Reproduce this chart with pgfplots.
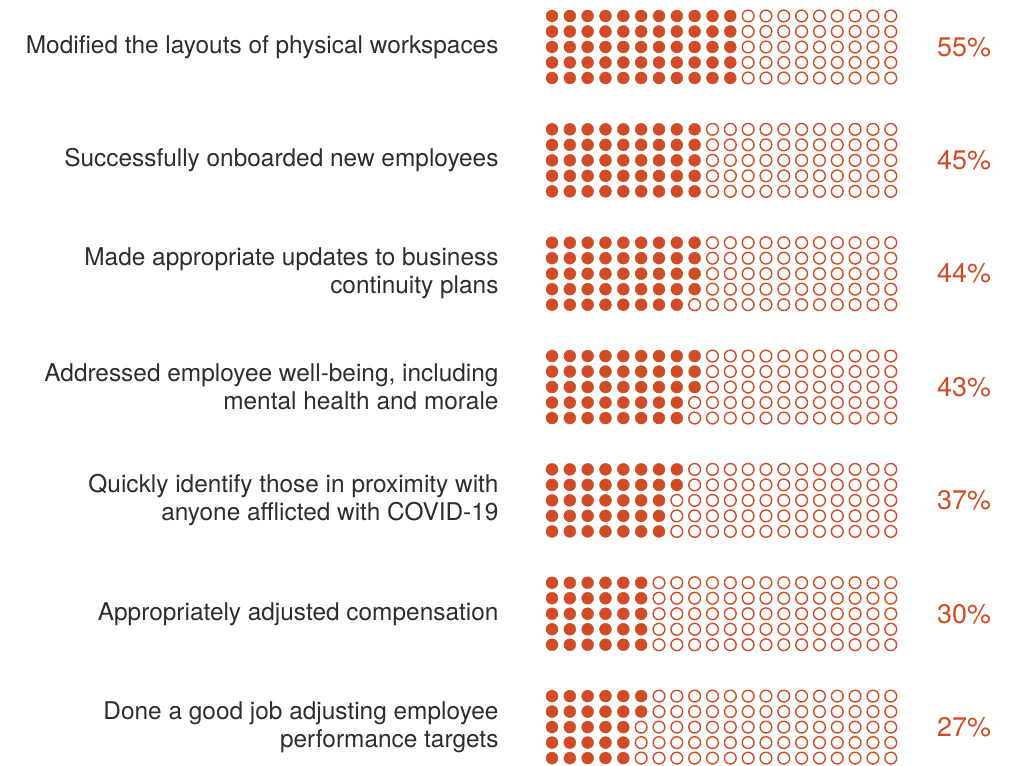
\documentclass[border=0pt]{standalone}
\usepackage{fontspec}
\setmainfont{TeX Gyre Heros}
\usepackage{pgfplots}
\pgfplotsset{compat=1.18}
\definecolor{dotorange}{RGB}{208,76,38}
\definecolor{labelgray}{RGB}{45,45,45}

\begin{document}
\begin{tikzpicture}
% waffle grid: 20 columns x 5 rows per item, filled column by column
\gdef\filledlist{}\gdef\openlist{}
\foreach \v [count=\g from 0] in {55,45,44,43,37,30,27} {
  \foreach \cc in {0,...,19} {
    \foreach \rr in {0,...,4} {
      \pgfmathtruncatemacro\k{\cc*5+\rr}
      \pgfmathsetmacro\xx{552+17.83*\cc}
      \pgfmathsetmacro\yy{765-(16+113.35*\g+15.5*\rr)}
      \ifnum\k<\v\relax
        \xdef\filledlist{\filledlist (\xx,\yy)}
      \else
        \xdef\openlist{\openlist (\xx,\yy)}
      \fi
    }}}
\begin{axis}[width=1017bp, height=765bp, scale only axis,
  xmin=0, xmax=1017, ymin=0, ymax=765, hide axis, clip=false]
\path (axis cs:0,0) rectangle (axis cs:1017,765);
\edef\tmp{\noexpand\addplot[only marks, color=dotorange, mark=*, mark size=6pt,
  mark options={draw=none, fill=dotorange}] coordinates {\filledlist};}
\tmp
\edef\tmp{\noexpand\addplot[only marks, color=dotorange, mark=o, mark size=5.9pt,
  mark options={draw=dotorange, fill=white, line width=1.4pt}] coordinates {\openlist};}
\tmp

\tikzset{lab/.style={anchor=east, align=right, text=labelgray,
  font=\fontsize{24.5}{28}\selectfont},
  pct/.style={text=dotorange, font=\fontsize{27}{30}\selectfont}}
\node[lab] at (axis cs:502,718) {Modified the layouts of physical workspaces};
\node[lab] at (axis cs:502,604.6) {Successfully onboarded new employees};
\node[lab] at (axis cs:502,491.3) {Made appropriate updates to business\\continuity plans};
\node[lab] at (axis cs:502,378) {Addressed employee well-being, including\\mental health and morale};
\node[lab] at (axis cs:502,264.6) {Quickly identify those in proximity with\\anyone afflicted with COVID-19};
\node[lab] at (axis cs:502,151.2) {Appropriately adjusted compensation};
\node[lab] at (axis cs:502,37.9) {Done a good job adjusting employee\\performance targets};

\node[pct] at (axis cs:964,718) {55\%};
\node[pct] at (axis cs:964,604.6) {45\%};
\node[pct] at (axis cs:964,491.3) {44\%};
\node[pct] at (axis cs:964,378) {43\%};
\node[pct] at (axis cs:964,264.6) {37\%};
\node[pct] at (axis cs:964,151.2) {30\%};
\node[pct] at (axis cs:964,37.9) {27\%};
\end{axis}
\end{tikzpicture}
\end{document}
